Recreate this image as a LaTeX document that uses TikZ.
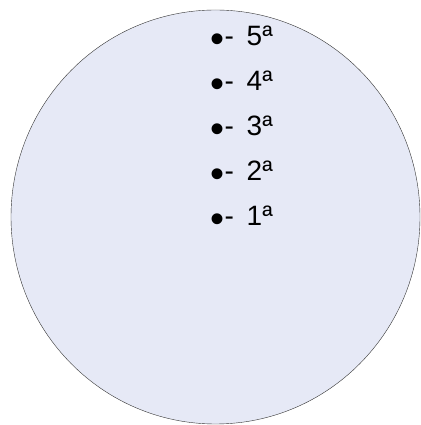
\documentclass[tikz,border=0pt]{standalone}
\usepackage{fontspec}
\setmainfont{Liberation Sans}
\usetikzlibrary{positioning}

\definecolor{discfill}{RGB}{230,233,246}
\newcommand{\rankdot}{{\fontsize{40}{40}\selectfont\raisebox{-6.4pt}{\textbullet}}}

\begin{document}
\begin{tikzpicture}[x=1pt,y=1pt,rank/.style={font=\fontsize{28}{32}\selectfont,inner sep=0pt,anchor=base west}]
\useasboundingbox (0,0) rectangle (420,425);
\draw[fill=discfill,draw=black!80,thin] (215.5,208) ellipse [x radius=204.5,y radius=207];

\node[rank] (rank5) at (210.4,379) {\rankdot-\hspace{12.8pt}5ª};
\node[rank] (rank4) at (210.4,334) {\rankdot-\hspace{12.8pt}4ª};
\node[rank] (rank3) at (210.4,289) {\rankdot-\hspace{12.8pt}3ª};
\node[rank] (rank2) at (210.4,244) {\rankdot-\hspace{12.8pt}2ª};
\node[rank] (rank1) at (210.4,199) {\rankdot-\hspace{12.8pt}1ª};

\end{tikzpicture}
\end{document}
